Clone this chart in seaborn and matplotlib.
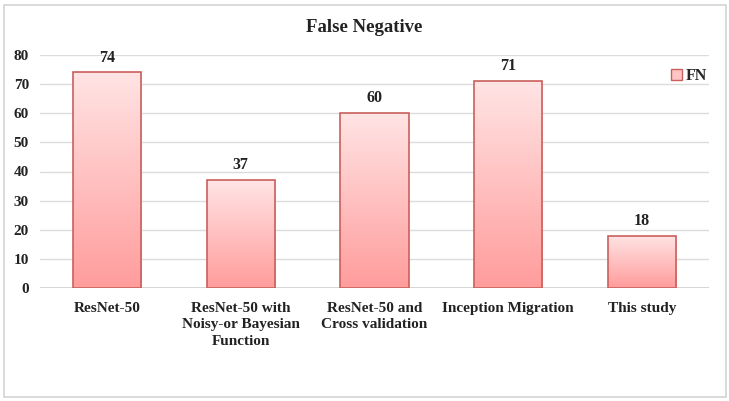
import numpy as np
import pandas as pd
import matplotlib
matplotlib.use("Agg")
import matplotlib.pyplot as plt
import seaborn as sns
from matplotlib.patches import Rectangle, Patch
from matplotlib.colors import LinearSegmentedColormap

methods = ["ResNet-50", "ResNet-50 with\nNoisy-or Bayesian\nFunction",
           "ResNet-50 and\nCross validation", "Inception Migration", "This study"]
fn_values = [74, 37, 60, 71, 18]
y_ticks = [0, 10, 20, 30, 40, 50, 60, 70, 80]

df = pd.DataFrame({"Method": methods, "FN": fn_values})

sns.set_style("white")
plt.rcParams["font.family"] = ["Liberation Serif", "DejaVu Serif"]
plt.rcParams["font.weight"] = "bold"

fig = plt.figure(figsize=(7.29, 4.01), dpi=100)
ax = fig.add_axes([40 / 729, 1 - 288 / 401, 669 / 729, 233 / 401])

sns.barplot(data=df, x="Method", y="FN", ax=ax, width=0.51,
            color="#FFB3B3", edgecolor="#C9605C", linewidth=1.2, zorder=3)

# vertical gradient inside each bar: light pink on top, deeper pink below
grad = LinearSegmentedColormap.from_list("g", ["#FF9C9C", "#FFE4E4"])
for p in ax.patches:
    x0, y0 = p.get_x(), p.get_y()
    w, h = p.get_width(), p.get_height()
    im = ax.imshow(np.linspace(0, 1, 256).reshape(-1, 1), cmap=grad,
                   extent=[x0, x0 + w, y0, y0 + h], origin="lower",
                   aspect="auto", zorder=3.5)
    im.set_clip_path(p)
    p.set_facecolor("none")
    p.set_zorder(4)
    ax.annotate(f"{int(h)}", (x0 + w / 2, y0 + h), xytext=(0, 5),
                textcoords="offset points", ha="center", va="bottom",
                fontsize=11.5, fontweight="bold", color="#222222",
                annotation_clip=False)

ax.set_xlim(-0.5, len(methods) - 0.5)
ax.set_ylim(0, 80)
ax.set_yticks(y_ticks)
ax.yaxis.grid(True, color="#DCDCDC", linewidth=1, zorder=0)
ax.set_axisbelow(True)
for s in ax.spines.values():
    s.set_visible(False)
ax.axhline(0, color="#D0D0D0", linewidth=1.2, zorder=2)
ax.set_xlabel("")
ax.set_ylabel("")
ax.tick_params(axis="both", length=0, labelsize=11, colors="#222222")
ax.tick_params(axis="y", pad=8)
ax.tick_params(axis="x", pad=10)
for lab in ax.get_xticklabels():
    lab.set_fontweight("bold")
    lab.set_fontsize(11)
    lab.set_linespacing(1.35)
for lab in ax.get_yticklabels():
    lab.set_fontweight("bold")

fig.text(0.5, 1 - 27 / 401, "False Negative", ha="center", va="center",
         fontsize=13.5, fontweight="bold", color="#222222")

handle = Patch(facecolor="#FFC4C4", edgecolor="#C9605C", linewidth=1)
fig.legend([handle], ["FN"], loc="center", bbox_to_anchor=(689 / 729, 1 - 76 / 401),
           frameon=False, fontsize=11.5, handlelength=0.7, handleheight=0.7,
           handletextpad=0.2, borderpad=0)

fig.patches.append(Rectangle((4 / 729, 4 / 401), 722 / 729, 392 / 401,
                             transform=fig.transFigure, fill=False,
                             edgecolor="#D3D3D3", linewidth=1.2))

fig.savefig("out.png", dpi=100)
